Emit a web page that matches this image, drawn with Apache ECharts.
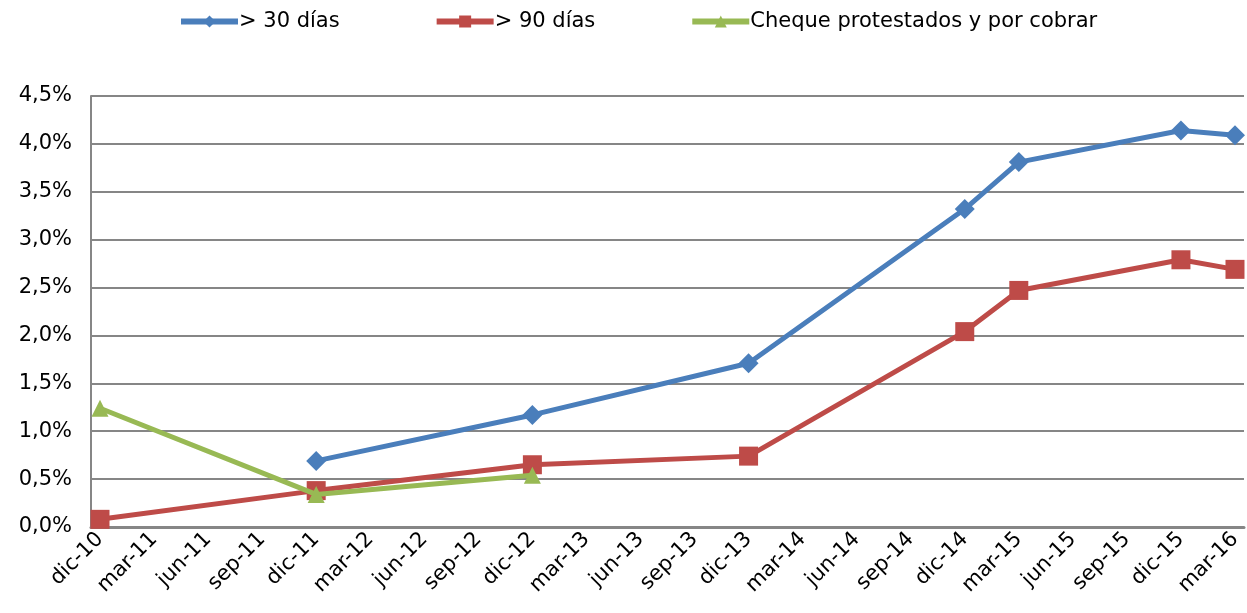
<!DOCTYPE html>
<html>
<head>
<meta charset="utf-8">
<script src="https://cdn.jsdelivr.net/npm/echarts@6/dist/echarts.min.js"></script>
<style>
html, body { margin: 0; padding: 0; background: #fff; }
#chart { width: 1247px; height: 613px; }
</style>
</head>
<body>
<div id="chart"></div>
<script>
// eje mensual, etiqueta cada 3 meses
const meses = [
    'dic-10', 'ene-11', 'feb-11', 'mar-11', 'abr-11', 'may-11', 'jun-11', 'jul-11', 'ago-11', 'sep-11', 'oct-11', 'nov-11',
    'dic-11', 'ene-12', 'feb-12', 'mar-12', 'abr-12', 'may-12', 'jun-12', 'jul-12', 'ago-12', 'sep-12', 'oct-12', 'nov-12',
    'dic-12', 'ene-13', 'feb-13', 'mar-13', 'abr-13', 'may-13', 'jun-13', 'jul-13', 'ago-13', 'sep-13', 'oct-13', 'nov-13',
    'dic-13', 'ene-14', 'feb-14', 'mar-14', 'abr-14', 'may-14', 'jun-14', 'jul-14', 'ago-14', 'sep-14', 'oct-14', 'nov-14',
    'dic-14', 'ene-15', 'feb-15', 'mar-15', 'abr-15', 'may-15', 'jun-15', 'jul-15', 'ago-15', 'sep-15', 'oct-15', 'nov-15',
    'dic-15', 'ene-16', 'feb-16', 'mar-16'
];

// fechas con dato
const fechas = ['dic-10', 'dic-11', 'dic-12', 'dic-13', 'dic-14', 'mar-15', 'dic-15', 'mar-16'];
const mora30 = [null, 0.69, 1.17, 1.71, 3.32, 3.81, 4.14, 4.09];
const mora90 = [0.08, 0.38, 0.65, 0.74, 2.04, 2.47, 2.79, 2.69];
const cheques = [1.24, 0.34, 0.54, null, null, null, null, null];

const nombres = ['> 30 días', '> 90 días', 'Cheque protestados y por cobrar'];

function puntos(vals) {
    return fechas.map((f, i) => [f, vals[i]]).filter(p => p[1] !== null);
}

const FONT = 'DejaVu Sans';

var myChart = echarts.init(document.getElementById('chart'), null, { renderer: 'canvas' });

var option = {
    animation: false,
    textStyle: { fontFamily: FONT },
    legend: {
        top: 6,
        left: 173,
        itemWidth: 57,
        itemHeight: 15,
        itemGap: 94,
        lineStyle: { width: 6 },
        textStyle: { fontSize: 21, color: '#000', fontFamily: FONT, padding: [0, 0, 0, -4] },
        data: nombres
    },
    grid: {
        left: 91,
        right: 3,
        top: 96,
        bottom: 86,
        containLabel: false
    },
    xAxis: {
        type: 'category',
        data: meses,
        boundaryGap: true,
        axisLine: { lineStyle: { color: '#868686', width: 3 } },
        axisTick: { show: false },
        axisLabel: {
            interval: 2,
            rotate: 45,
            fontSize: 21,
            color: '#000',
            fontFamily: FONT,
            margin: 9
        },
        splitLine: { show: false }
    },
    yAxis: {
        type: 'value',
        min: 0,
        max: 4.5,
        interval: 0.5,
        axisLine: { show: true, lineStyle: { color: '#868686', width: 2 } },
        axisTick: { show: false },
        axisLabel: {
            fontSize: 21,
            color: '#000',
            fontFamily: FONT,
            margin: 19,
            formatter: v => v.toFixed(1).replace('.', ',') + '%'
        },
        splitLine: { lineStyle: { color: '#868686', width: 2 } }
    },
    series: [
        {
            name: nombres[0],
            type: 'line',
            data: puntos(mora30),
            symbol: 'diamond',
            symbolSize: 20,
            color: '#4A7EBB',
            lineStyle: { width: 5 },
            z: 3
        },
        {
            name: nombres[1],
            type: 'line',
            data: puntos(mora90),
            symbol: 'rect',
            symbolSize: 19,
            color: '#BE4B48',
            lineStyle: { width: 5 },
            z: 2
        },
        {
            name: nombres[2],
            type: 'line',
            data: puntos(cheques),
            symbol: 'triangle',
            symbolSize: 17,
            color: '#98B954',
            lineStyle: { width: 5 },
            z: 4
        }
    ]
};

myChart.setOption(option);
</script>
</body>
</html>
